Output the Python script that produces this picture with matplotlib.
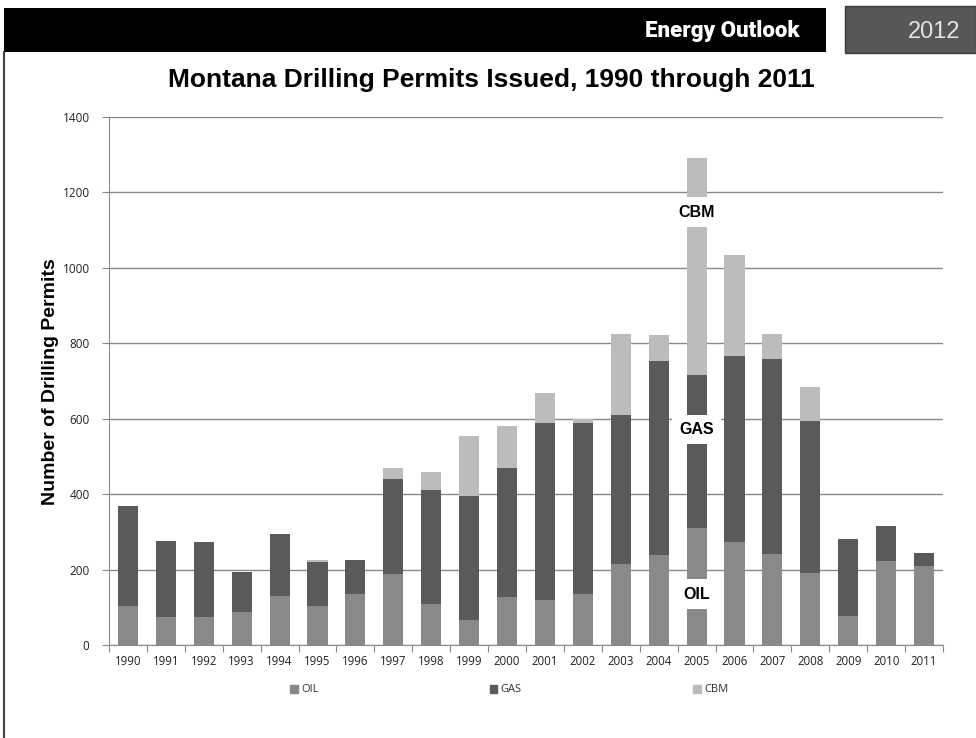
import numpy as np
import matplotlib
matplotlib.use('Agg')
import matplotlib.pyplot as plt
from matplotlib.patches import Rectangle, Patch
from matplotlib.lines import Line2D

years = ['1990', '1991', '1992', '1993', '1994', '1995', '1996', '1997', '1998', '1999', '2000',
         '2001', '2002', '2003', '2004', '2005', '2006', '2007', '2008', '2009', '2010', '2011']
oil = [104, 73, 73, 88, 131, 104, 135, 187, 109, 66, 127, 120, 135, 215, 239, 311, 273, 241, 192, 77, 223, 210]
gas = [265, 202, 200, 105, 162, 115, 90, 252, 303, 330, 343, 469, 454, 395, 513, 404, 494, 517, 402, 204, 92, 34]
cbm = [0, 0, 0, 0, 0, 7, 0, 30, 46, 157, 112, 80, 9, 215, 69, 575, 268, 67, 91, 0, 0, 0]

# labels written on the 2005 bar
label_year = '2005'
label_text = ['CBM', 'GAS', 'OIL']
label_value = [1148, 572, 135]

W, H = 976, 738
fig = plt.figure(figsize=(W / 100, H / 100), dpi=100)

# header band
fig.patches.append(Rectangle((4 / W, 1 - 52 / H), 822 / W, 44 / H, transform=fig.transFigure,
                             facecolor='black', edgecolor='none'))
fig.patches.append(Rectangle((845 / W, 1 - 53 / H), 131 / W, 47 / H, transform=fig.transFigure,
                             facecolor='#575757', edgecolor='#3a3a3a', lw=1))
fig.lines.append(Line2D([4 / W, 4 / W], [0, 1 - 52 / H], transform=fig.transFigure, color='#444444', lw=1.5))
fig.text(800 / W, 1 - 31 / H, 'Energy Outlook', color='white', fontsize=16, fontweight='heavy',
         family='Roboto', ha='right', va='center')
fig.text(960 / W, 1 - 32 / H, '2012', color='#e4e4e4', fontsize=17, family='Liberation Sans',
         ha='right', va='center')
fig.text(491 / W, 1 - 80 / H, 'Montana Drilling Permits Issued, 1990 through 2011', fontsize=19,
         fontweight='bold', family='Liberation Sans', ha='center', va='center')

ax = fig.add_axes([109 / W, 1 - 645 / H, (943 - 109) / W, (645 - 117) / H])
x = np.arange(len(years))
oil = np.array(oil)
gas = np.array(gas)
cbm = np.array(cbm)
c_oil, c_gas, c_cbm = '#898989', '#5a5a5a', '#bcbcbc'
ax.bar(x, oil, width=0.53, color=c_oil, zorder=3)
ax.bar(x, gas, width=0.53, bottom=oil, color=c_gas, zorder=3)
ax.bar(x, cbm, width=0.53, bottom=oil + gas, color=c_cbm, zorder=3)

i = years.index(label_year)
for txt, v in zip(label_text, label_value):
    ax.text(x[i], v, txt, ha='center', va='center', fontsize=11.5, fontweight='bold',
            family='Liberation Sans', zorder=5,
            bbox=dict(facecolor='white', edgecolor='none', boxstyle='square,pad=0.45'))

ax.set_xlim(-0.5, len(years) - 0.5)
ax.set_ylim(0, 1400)
ax.set_yticks(np.arange(0, 1401, 200))
ax.yaxis.grid(True, color='#8a8a8a', lw=1, zorder=0)
ax.set_axisbelow(True)
for s in ['top', 'right']:
    ax.spines[s].set_visible(False)
ax.spines['left'].set_color('#8a8a8a')
ax.spines['bottom'].set_color('#8a8a8a')

# ticks at category boundaries, labels at centres
ax.set_xticks(np.arange(-0.5, len(years), 1))
ax.set_xticklabels([])
ax.set_xticks(x, minor=True)
ax.set_xticklabels(years, minor=True, fontsize=8.3, family='Open Sans', color='#222222')
ax.tick_params(axis='x', which='major', length=5, color='#8a8a8a', direction='out')
ax.tick_params(axis='x', which='minor', length=0, pad=7)
ax.tick_params(axis='y', length=5, color='#8a8a8a', direction='out', pad=9)
for t in ax.get_yticklabels():
    t.set_fontsize(8.5)
    t.set_family('Open Sans')
    t.set_color('#222222')

fig.text(51 / W, 1 - 382 / H, 'Number of Drilling Permits', rotation=90, fontsize=14,
         fontweight='bold', family='Liberation Sans', ha='center', va='center')

handles = [Patch(color=c_oil, label='OIL'), Patch(color=c_gas, label='GAS'), Patch(color=c_cbm, label='CBM')]
leg = fig.legend(handles=handles, loc='center', bbox_to_anchor=(509 / W, 1 - 690 / H), ncol=3, frameon=False,
                 handlelength=0.7, handleheight=0.7, handletextpad=0.3, columnspacing=15.4,
                 prop={'family': 'Open Sans', 'size': 8})
for t in leg.get_texts():
    t.set_color('#333333')

fig.savefig('out.png', dpi=100)
